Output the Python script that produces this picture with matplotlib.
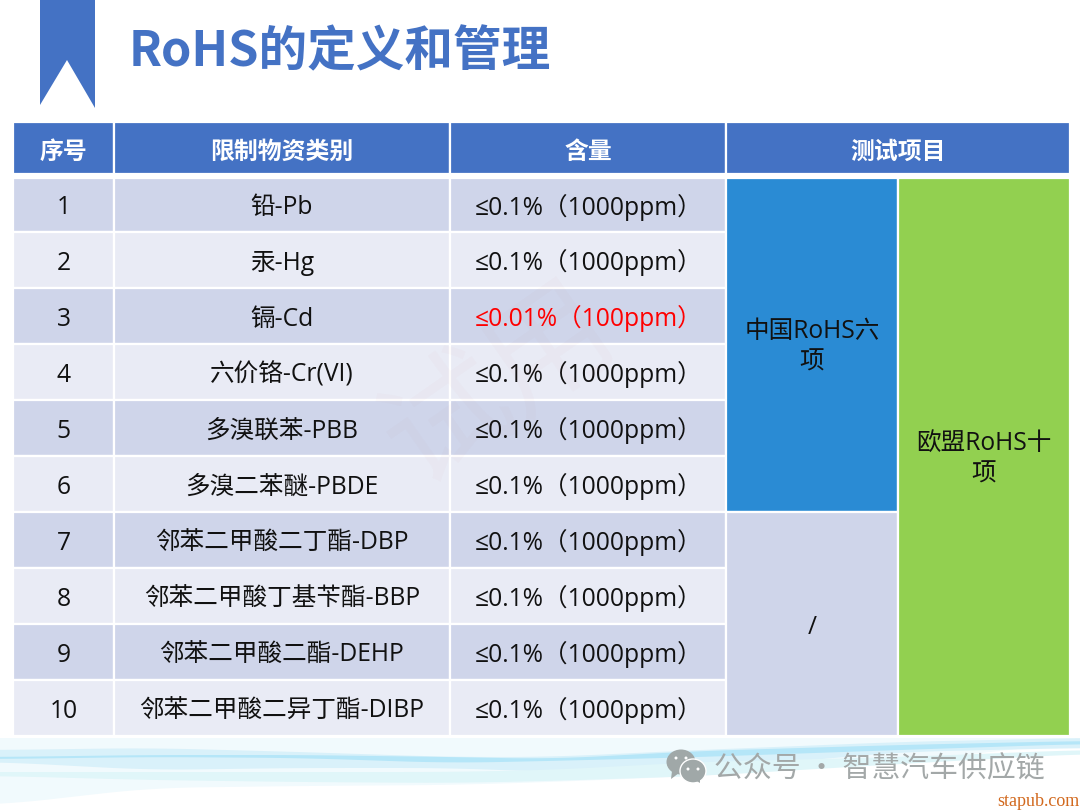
import numpy as np
import matplotlib
matplotlib.use('Agg')
import matplotlib.pyplot as plt
from matplotlib.patches import Rectangle, Polygon, Ellipse

FONT = ['Open Sans', 'Noto Sans CJK SC', 'DejaVu Sans']
plt.rcParams['font.family'] = FONT

title = 'RoHS的定义和管理'
headers = ['序号', '限制物资类别', '含量', '测试项目']
numbers = [str(i) for i in range(1, 11)]
substances = ['铅-Pb', '汞-Hg', '镉-Cd', '六价铬-Cr(VI)', '多溴联苯-PBB', '多溴二苯醚-PBDE',
              '邻苯二甲酸二丁酯-DBP', '邻苯二甲酸丁基苄酯-BBP', '邻苯二甲酸二酯-DEHP', '邻苯二甲酸二异丁酯-DIBP']
limits = ['≤0.1%（1000ppm）', '≤0.1%（1000ppm）', '≤0.01%（100ppm）', '≤0.1%（1000ppm）', '≤0.1%（1000ppm）',
          '≤0.1%（1000ppm）', '≤0.1%（1000ppm）', '≤0.1%（1000ppm）', '≤0.1%（1000ppm）', '≤0.1%（1000ppm）']
china_label = '中国RoHS六\n项'
eu_label = '欧盟RoHS十\n项'
none_label = '/'
footer = '公众号 · 智慧汽车供应链'
site = 'stapub.com'
watermark = '试用'

col_x = [13, 114, 450, 726, 898, 1070]
row_y = [178, 232, 288, 344, 400, 456, 512, 568, 624, 680, 736]
head_y = (122, 174)
BLUE, DARK, LIGHT = '#4472C4', '#CFD5EA', '#E9EBF5'
MID, GREEN = '#2A8BD4', '#92D050'
TEXT = '#111111'
BODY = 17.7

# wave outlines: x stops, then upper and lower edges
wave_x = [0, 150, 300, 450, 550, 700, 900, 1080]
pale_top = [738, 738, 738, 738, 738, 738, 738, 738]
pale_bot = [805, 788, 786, 785, 782, 776, 762, 742]
mid_top = [750, 748, 752, 757, 757, 750, 742, 738]
mid_bot = [762, 770, 768, 768, 772, 770, 752, 748]
deep_top = [757, 755, 755, 757, 759, 751, 745, 741]
deep_bot = [759, 757, 758, 763, 761, 757, 750, 744]
cyan_top = [772, 772, 772, 772, 770, 762, 757, 750]
cyan_bot = [776, 780, 782, 783, 781, 776, 764, 754]

fig = plt.figure(figsize=(10.8, 8.1), dpi=100)
ax = fig.add_axes([0, 0, 1, 1])
ax.set_xlim(0, 1080)
ax.set_ylim(810, 0)
ax.axis('off')


def cell(x0, x1, y0, y1, color):
    ax.add_patch(Rectangle((x0, y0), x1 - x0, y1 - y0, fc=color, ec='white', lw=1.6, zorder=3))


def wave(top, bot, color):
    grid = np.arange(0, 1081, 4)
    kernel = np.ones(25) / 25
    upper = np.convolve(np.pad(np.interp(grid, wave_x, top), 12, mode='edge'), kernel, mode='valid')
    lower = np.convolve(np.pad(np.interp(grid, wave_x, bot), 12, mode='edge'), kernel, mode='valid')
    ax.fill_between(grid, upper, lower, color=color, lw=0, zorder=1)


wave(pale_top, pale_bot, '#F1FAFD')
wave(mid_top, mid_bot, '#D9F1FA')
wave(cyan_top, cyan_bot, '#E0F6F9')
wave(deep_top, deep_bot, '#B5E6F8')

# bookmark and title
ax.add_patch(Polygon([(40, 0), (95, 0), (95, 108), (67, 60), (40, 105)], fc=BLUE, ec='none'))
ax.text(129, 52, title, fontsize=35, fontweight='bold', color=BLUE, va='center', ha='left',
        family=['Noto Sans CJK SC'])

# header
head_spans = [(col_x[0], col_x[1]), (col_x[1], col_x[2]), (col_x[2], col_x[3]), (col_x[3], col_x[5])]
for (x0, x1), h in zip(head_spans, headers):
    cell(x0, x1, head_y[0], head_y[1], BLUE)
    ax.text((x0 + x1) / 2, 152, h, color='white', fontsize=17.2, fontweight='bold', ha='center', va='center',
            family=['Noto Sans CJK SC'], zorder=4)

# body
for i in range(len(numbers)):
    y0, y1 = row_y[i], row_y[i + 1]
    fill = DARK if i % 2 == 0 else LIGHT
    for c in range(3):
        cell(col_x[c], col_x[c + 1], y0, y1, fill)
    ym = (y0 + y1) / 2
    ax.text((col_x[0] + col_x[1]) / 2, ym + 3, numbers[i], fontsize=BODY, color=TEXT, ha='center', va='center', zorder=4)
    ax.text((col_x[1] + col_x[2]) / 2, ym + 3, substances[i], fontsize=BODY, color=TEXT, ha='center', va='center', zorder=4)
    ax.text((col_x[2] + col_x[3]) / 2 + 1, ym + 2, limits[i], fontsize=BODY, ha='center', va='center', zorder=4,
            color='#FF0000' if limits[i].startswith('≤0.01') else TEXT)

# merged cells
cell(col_x[3], col_x[4], row_y[0], row_y[6], MID)
cell(col_x[3], col_x[4], row_y[6], row_y[10], DARK)
cell(col_x[4], col_x[5], row_y[0], row_y[10], GREEN)
ax.text((col_x[3] + col_x[4]) / 2, 347, china_label, fontsize=BODY, color=TEXT, ha='center', va='center', linespacing=1.32, zorder=4)
ax.text((col_x[3] + col_x[4]) / 2, 627, none_label, fontsize=BODY, color=TEXT, ha='center', va='center', zorder=4)
ax.text((col_x[4] + col_x[5]) / 2, 459, eu_label, fontsize=BODY, color=TEXT, ha='center', va='center', linespacing=1.32, zorder=4)

# faint diagonal watermark
ax.text(500, 385, watermark, fontsize=90, color='#C04040', alpha=0.022, rotation=35, ha='center', va='center',
        family=['Noto Sans CJK SC'], zorder=5)

# footer icon and text
ICON = '#A0A8A8'
ax.add_patch(Ellipse((681, 762), 29, 25, fc=ICON, ec='none', zorder=5))
ax.add_patch(Polygon([(672, 771), (671, 779), (679, 773)], fc=ICON, ec='none', zorder=5))
ax.add_patch(Ellipse((693, 771), 26, 24, fc=ICON, ec='white', lw=1, zorder=6))
ax.add_patch(Polygon([(695, 780), (700, 783), (700, 778)], fc=ICON, ec='none', zorder=6))
for ex, ey, parent in [(676, 758, 7), (686, 758, 7), (688, 769, 7), (698, 769, 7)]:
    ax.add_patch(Ellipse((ex, ey), 3, 3, fc='white', ec='none', zorder=parent))
ax.text(714, 769, footer, fontsize=20.8, color='#A3A8A8', ha='left', va='center', zorder=5,
        family=['Noto Sans CJK SC', 'DejaVu Sans'])
ax.text(1079, 801, site, fontsize=13, color='#D2691E', ha='right', va='center', family='Liberation Serif', zorder=5)

fig.savefig('out.png', dpi=100)
